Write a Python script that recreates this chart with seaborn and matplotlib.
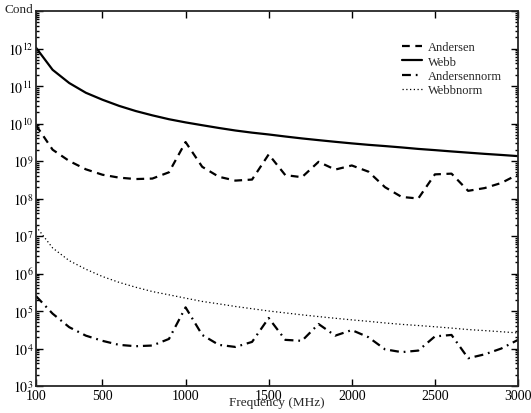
import math
import matplotlib
matplotlib.use("Agg")
import matplotlib.pyplot as plt
import matplotlib.ticker as mticker
import pandas as pd
import seaborn as sns

# values (100 MHz steps)
freq = list(range(100, 3001, 100))

andersen = [9.0e9, 2.0e9, 1.0e9, 6.0e8, 4.3e8, 3.6e8, 3.3e8, 3.4e8, 5.0e8, 3.2e9,
            7.0e8, 3.8e8, 3.0e8, 3.2e8, 1.5e9, 4.2e8, 3.7e8, 9.5e8, 5.9e8, 7.6e8,
            5.2e8, 2.0e8, 1.1e8, 1.0e8, 4.4e8, 4.6e8, 1.6e8, 1.9e8, 2.6e8, 4.4e8]

webb = [1.05e12, 2.7e11, 1.2e11, 6.6e10, 4.3e10, 2.95e10, 2.15e10, 1.65e10, 1.3e10, 1.07e10,
        9.0e9, 7.6e9, 6.5e9, 5.7e9, 5.1e9, 4.5e9, 4.0e9, 3.6e9, 3.25e9, 2.95e9,
        2.7e9, 2.5e9, 2.3e9, 2.1e9, 1.95e9, 1.8e9, 1.67e9, 1.55e9, 1.45e9, 1.35e9]

andersennorm = [2.5e5, 8.5e4, 3.7e4, 2.2e4, 1.6e4, 1.25e4, 1.15e4, 1.2e4, 1.8e4, 1.25e5,
                2.3e4, 1.25e4, 1.1e4, 1.5e4, 6.5e4, 1.7e4, 1.6e4, 4.5e4, 2.2e4, 3.1e4,
                2.0e4, 9.5e3, 8.0e3, 8.8e3, 2.1e4, 2.3e4, 5.5e3, 7.0e3, 1.0e4, 1.7e4]

webbnorm = [1.8e7, 4.8e6, 2.2e6, 1.3e6, 8.3e5, 5.8e5, 4.3e5, 3.3e5, 2.7e5, 2.2e5,
            1.8e5, 1.55e5, 1.32e5, 1.15e5, 1.0e5, 8.9e4, 7.9e4, 7.1e4, 6.4e4, 5.8e4,
            5.3e4, 4.8e4, 4.4e4, 4.1e4, 3.8e4, 3.5e4, 3.2e4, 3.0e4, 2.8e4, 2.6e4]

series_names = ["Andersen", "Webb", "Andersennorm", "Webbnorm"]
series_vals = [andersen, webb, andersennorm, webbnorm]
x_ticks = [100, 500, 1000, 1500, 2000, 2500, 3000]

rows = []
for name, vals in zip(series_names, series_vals):
    for f, v in zip(freq, vals):
        rows.append({"freq": f, "cond": v, "series": name})
df = pd.DataFrame(rows)

sns.set_style("ticks")
plt.rcParams["font.family"] = ["Liberation Serif", "DejaVu Serif"]
plt.rcParams["mathtext.fontset"] = "stix"

fig = plt.figure(figsize=(5.31, 4.14), dpi=100)
ax = fig.add_axes([36 / 531, 27 / 414, 482 / 531, 375 / 414])

styles = {
    "Andersen": dict(linestyle=(0, (3.5, 2.5)), linewidth=1.6),
    "Webb": dict(linestyle="-", linewidth=1.6),
    "Andersennorm": dict(linestyle=(0, (4, 2.2, 0.8, 2.2)), linewidth=1.6),
    "Webbnorm": dict(linestyle=(0, (1, 2)), linewidth=0.9),
}

for name in series_names:
    sub = df[df["series"] == name]
    sns.lineplot(data=sub, x="freq", y="cond", ax=ax, color="black",
                 label=name, **styles[name])

ax.set_yscale("log")
ax.set_xlim(100, 3000)
ax.set_ylim(1e3, 1e13)
ax.set_xticks(x_ticks)
ax.set_xticklabels([str(t) for t in x_ticks])
ax.xaxis.set_minor_locator(mticker.NullLocator())
ax.yaxis.set_major_locator(mticker.FixedLocator([10.0 ** k for k in range(3, 14)]))
ax.yaxis.set_minor_locator(mticker.FixedLocator(
    [m * 10.0 ** k for k in range(3, 13) for m in range(2, 10)]))
ax.yaxis.set_major_formatter(mticker.FuncFormatter(
    lambda v, p: "" if v >= 1e13 else r"$10^{%d}$" % round(math.log10(v))))
ax.yaxis.set_minor_formatter(mticker.NullFormatter())

ax.tick_params(which="both", direction="in", top=True, right=True,
               labelsize=10, width=1.0, colors="black")
ax.tick_params(which="major", length=5, pad=2)
ax.tick_params(which="minor", length=2.5)
for s in ax.spines.values():
    s.set_linewidth(1.3)

ax.set_xlabel("Frequency (MHz)", fontsize=9.5, labelpad=-4)
ax.set_ylabel("Cond", fontsize=9.5, rotation=0, va="center", ha="center")
ax.yaxis.set_label_coords(-0.035, 1.006)

leg = ax.legend(loc="upper left", bbox_to_anchor=(0.735, 0.95), frameon=False,
                fontsize=9, handlelength=1.6, handletextpad=0.5, labelspacing=0.2)

fig.savefig("out.png", dpi=100)
